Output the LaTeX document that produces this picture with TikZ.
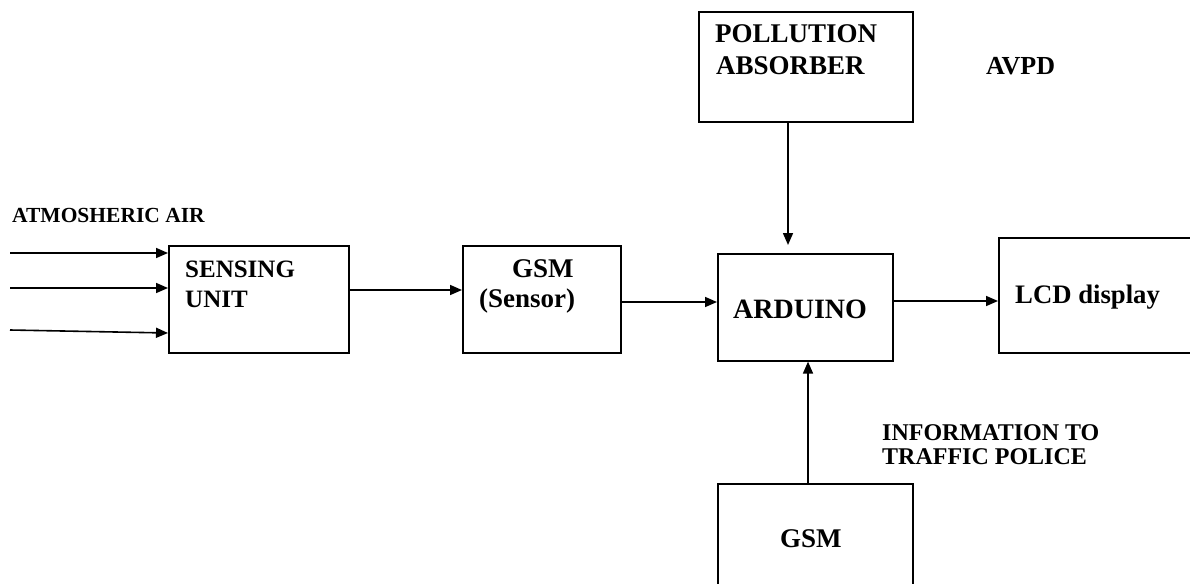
\documentclass[tikz,border=0pt]{standalone}
\usepackage{fontspec}
\setmainfont{Liberation Serif}
\usetikzlibrary{arrows.meta}
\begin{document}
\begin{tikzpicture}[x=1pt,y=-1pt,
  box/.style={draw, line width=1.6pt, inner sep=0pt, rectangle, anchor=north west},
  arr/.style={line width=1.6pt, -{Triangle[length=12pt,width=10pt]}},
  lbl/.style={inner sep=0pt, anchor=base west, font=\bfseries\fontsize{27}{29}\selectfont}]
\useasboundingbox (0,0) rectangle (1190,583);
\clip (0,0) rectangle (1190,583);
% boxes
\node[box, minimum width=180pt, minimum height=107pt] (su) at (168,245) {};
\node[box, minimum width=158pt, minimum height=107pt] (gs) at (462,245) {};
\node[box, minimum width=175pt, minimum height=107pt] (ar) at (717,253) {};
\node[box, minimum width=210pt, minimum height=115pt] (lcd) at (998,237) {};
\node[box, minimum width=214pt, minimum height=110pt] (pa) at (698,11) {};
\node[box, minimum width=195pt, minimum height=120pt] (gb) at (717,483) {};
% texts
\node[lbl, font=\bfseries\fontsize{21.5}{23}\selectfont] (t1) at (12,222) {ATMOSHERIC AIR};
\node[lbl, font=\bfseries\fontsize{25}{27}\selectfont] (t2) at (185,277) {SENSING};
\node[lbl, font=\bfseries\fontsize{25}{27}\selectfont] (t3) at (185,307) {UNIT};
\node[lbl] (t4) at (512,277) {GSM};
\node[lbl] (t5) at (479,307) {(Sensor)};
\node[lbl, font=\bfseries\fontsize{28}{30}\selectfont] (t6) at (733,318) {ARDUINO};
\node[lbl, font=\bfseries\fontsize{26.7}{29}\selectfont] (t7) at (1015,303) {LCD display};
\node[lbl] (t8) at (715,43) {POLLUTION};
\node[lbl] (t9) at (716,75) {ABSORBER};
\node[lbl, font=\bfseries\fontsize{26}{28}\selectfont] (t10) at (986,75) {AVPD};
\node[lbl, font=\bfseries\fontsize{24}{26}\selectfont] (t11) at (882,440) {INFORMATION TO};
\node[lbl, font=\bfseries\fontsize{24}{26}\selectfont] (t12) at (882,464) {TRAFFIC POLICE};
\node[lbl] (t13) at (780,547) {GSM};
% connectors
\coordinate (i1) at (10,253);
\coordinate (i2) at (10,288);
\coordinate (i3) at (10,330);
\draw[arr] (i1) -- (i1 -| su.west);
\draw[arr] (i2) -- (i2 -| su.west);
\draw[arr] (i3) -- ([yshift=-3pt]i3 -| su.west);
\coordinate (c1) at (0,290);
\coordinate (c2) at (0,302);
\coordinate (c3) at (0,301);
\draw[arr] (c1 -| su.east) -- (c1 -| gs.west);
\draw[arr] (c2 -| gs.east) -- (c2 -| ar.west);
\draw[arr] (c3 -| ar.east) -- (c3 -| lcd.west);
\coordinate (v1) at (788,0);
\coordinate (v2) at (808,0);
\draw[arr] (v1 |- pa.south) -- ([yshift=8pt]v1 |- ar.north);
\draw[arr] (v2 |- gb.north) -- (v2 |- ar.south);
\end{tikzpicture}
\end{document}
